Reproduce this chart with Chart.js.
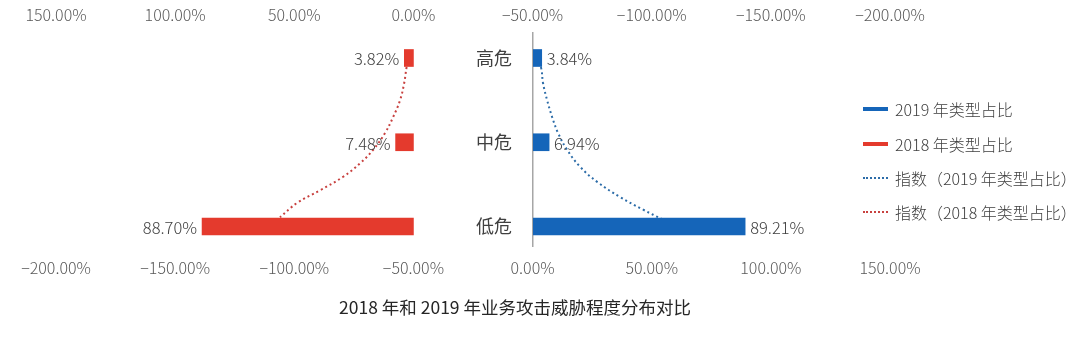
<!DOCTYPE html>
<html>
<head>
<meta charset="utf-8">
<script src="https://cdn.jsdelivr.net/npm/chart.js@4/dist/chart.umd.min.js"></script>
<style>
html,body{margin:0;padding:0;background:#fff;}
#wrap{position:relative;width:1080px;height:348px;overflow:hidden;}
#c{position:absolute;left:0;top:0;}
#legend{position:absolute;left:863px;top:92px;font-family:"Noto Sans CJK SC";font-weight:300;font-size:16px;color:#404040;}
#legend .item{display:flex;align-items:center;height:34.4px;white-space:nowrap;}
#legend .mark{width:25px;margin-right:7px;box-sizing:border-box;}
#title{position:absolute;left:0;top:295px;width:1030px;text-align:center;font-family:"Noto Sans CJK SC";font-size:17.5px;line-height:24px;color:#262626;}
</style>
</head>
<body>
<div id="wrap">
  <canvas id="c" width="1080" height="348"></canvas>
  <div id="legend"></div>
  <div id="title"></div>
</div>
<script>
// ---- data ----
const categories = ['高危', '中危', '低危'];
const share2019 = [3.84, 6.94, 89.21];
const share2018 = [3.82, 7.48, 88.70];
const xTickValues = [-200, -150, -100, -50, 0, 50, 100, 150];
// exponential trend curves (value %, vertical position in category units)
const trend2019Val = [1.9, 3.6, 4.4, 6.1, 8.2, 10.7, 14.5, 19.9, 27.1, 36.7, 46.4, 54.8];
const trend2019Pos = [0.00, 0.12, 0.30, 0.50, 0.70, 0.89, 1.09, 1.29, 1.47, 1.65, 1.80, 1.92];
const trend2018Val = [2.2, 2.8, 3.9, 5.6, 8.5, 11.9, 16.9, 22.4, 29.5, 39.2, 48.8, 56.0];
const trend2018Pos = [0.05, 0.10, 0.30, 0.50, 0.70, 0.89, 1.09, 1.25, 1.41, 1.57, 1.72, 1.89];
const seriesLabels = ['2019 年类型占比', '2018 年类型占比', '指数（2019 年类型占比）', '指数（2018 年类型占比）'];
const chartTitle = '2018 年和 2019 年业务攻击威胁程度分布对比';

// ---- styles ----
const BLUE = '#1565B9', RED = '#E43A2D', BLUE_T = '#2C6CA8', RED_T = '#C8413F';
const TICK_FONT = {family: '"Noto Sans CJK SC"', size: 16, weight: 300};

const pct = v => (v < 0 ? '\u2212' : '') + Math.abs(v).toFixed(2) + '%';
const pts = (vals, pos) => vals.map((v, i) => ({x: v, y: pos[i]}));

const valueLabels = {
  id: 'valueLabels',
  afterDatasetsDraw(chart) {
    const ctx = chart.ctx;
    ctx.save();
    ctx.font = '300 16.5px "Noto Sans CJK SC"';
    ctx.fillStyle = '#404040';
    ctx.textBaseline = 'middle';
    [0, 1].forEach(di => {
      const meta = chart.getDatasetMeta(di);
      const src = di === 0 ? share2019 : share2018;
      meta.data.forEach((bar, i) => {
        const l = Math.min(bar.x, bar.base), r = Math.max(bar.x, bar.base);
        if (di === 0) { ctx.textAlign = 'left'; ctx.fillText(pct(src[i]), r + 5, bar.y + 1); }
        else { ctx.textAlign = 'right'; ctx.fillText(pct(src[i]), l - 5, bar.y + 1); }
      });
    });
    ctx.restore();
  }
};

const setTicks = list => s => { s.ticks = list.map(v => ({value: v})); };

const chart = new Chart(document.getElementById('c'), {
  type: 'bar',
  data: {
    datasets: [
      {label: seriesLabels[0], data: pts(share2019, [0, 1, 2]), xAxisID: 'x', yAxisID: 'y',
       backgroundColor: BLUE, barThickness: 17, grouped: false, order: 1},
      {label: seriesLabels[1], data: pts(share2018, [0, 1, 2]), xAxisID: 'x2', yAxisID: 'y',
       backgroundColor: RED, barThickness: 17, grouped: false, order: 1},
      {type: 'line', label: seriesLabels[2], data: pts(trend2019Val, trend2019Pos), xAxisID: 'x', yAxisID: 'y',
       borderColor: BLUE_T, borderWidth: 2, borderDash: [2, 3], pointRadius: 0, tension: 0.4, fill: false, order: 2},
      {type: 'line', label: seriesLabels[3], data: pts(trend2018Val, trend2018Pos), xAxisID: 'x2', yAxisID: 'y',
       borderColor: RED_T, borderWidth: 2, borderDash: [2, 3], pointRadius: 0, tension: 0.4, fill: false, order: 2}
    ]
  },
  options: {
    indexAxis: 'y',
    responsive: false,
    animation: false,
    devicePixelRatio: 1,
    layout: {padding: {left: 56, right: 190, top: -2, bottom: 59}},
    plugins: {legend: {display: false}, title: {display: false}, tooltip: {enabled: false}},
    scales: {
      x: {
        type: 'linear', position: 'bottom', min: -200, max: 150, offset: false,
        afterBuildTicks: setTicks(xTickValues),
        ticks: {callback: v => pct(v), font: TICK_FONT, color: '#595959', padding: 11.4, maxRotation: 0, autoSkip: false},
        grid: {drawTicks: false, lineWidth: 1.5, offset: false,
               color: c => (c.tick && c.tick.value === 0) ? '#A6A6A6' : 'rgba(0,0,0,0)'},
        border: {display: false}
      },
      x2: {
        type: 'linear', position: 'top', reverse: true, min: -200, max: 150, offset: false,
        afterBuildTicks: setTicks(xTickValues),
        ticks: {callback: v => pct(v), font: TICK_FONT, color: '#595959', padding: 7.4, maxRotation: 0, autoSkip: false},
        grid: {display: false, drawTicks: false},
        border: {display: false}
      },
      y: {
        type: 'linear', position: {x: -8.6}, reverse: true, min: -0.3086, max: 2.2433, offset: false,
        afterBuildTicks: setTicks([0, 1, 2]),
        ticks: {callback: v => categories[v], font: {family: '"Noto Sans CJK SC"', size: 18}, color: '#404040'},
        grid: {display: false, drawTicks: false, offset: false},
        border: {display: false}
      }
    }
  },
  plugins: [valueLabels]
});

// legend (built from the dataset labels and colours)
const legendEl = document.getElementById('legend');
chart.data.datasets.forEach(ds => {
  const item = document.createElement('div');
  item.className = 'item';
  const mark = document.createElement('span');
  mark.className = 'mark';
  if (ds.type === 'line') {
    mark.style.borderTop = '2px dotted ' + ds.borderColor;
    mark.style.height = '0';
  } else {
    mark.style.height = '4px';
    mark.style.background = ds.backgroundColor;
  }
  const txt = document.createElement('span');
  txt.textContent = ds.label;
  item.appendChild(mark);
  item.appendChild(txt);
  legendEl.appendChild(item);
});
document.getElementById('title').textContent = chartTitle;
</script>
</body>
</html>
